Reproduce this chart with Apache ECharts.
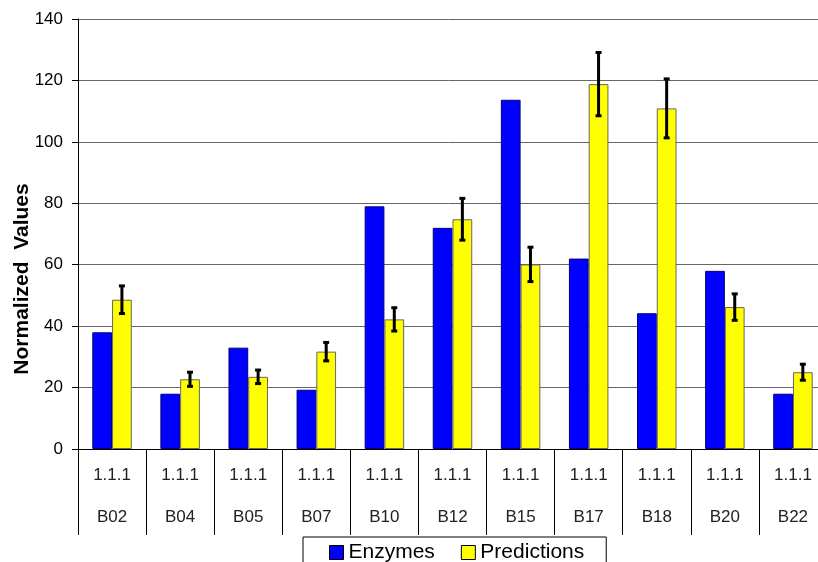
<!DOCTYPE html>
<html>
<head>
<meta charset="utf-8">
<script src="https://cdn.jsdelivr.net/npm/echarts@6/dist/echarts.min.js"></script>
<style>
  html, body { margin: 0; padding: 0; background: #ffffff; }
  #chartWrap { width: 818px; height: 562px; }
</style>
</head>
<body>
<div id="chartWrap"></div>
<script>
var categories = ['B02', 'B04', 'B05', 'B07', 'B10', 'B12', 'B15', 'B17', 'B18', 'B20', 'B22'];
var ecNumbers = ['1.1.1', '1.1.1', '1.1.1', '1.1.1', '1.1.1', '1.1.1', '1.1.1', '1.1.1', '1.1.1', '1.1.1', '1.1.1'];
var enzymes = [38, 18, 33, 19.3, 79, 72, 113.7, 62, 44.2, 58, 18];
var predictions = [48.6, 22.7, 23.5, 31.7, 42.2, 74.8, 60.1, 118.8, 110.9, 46.2, 25];
var predErrors = [4.5, 2.3, 2.2, 3, 3.8, 6.8, 5.6, 10.3, 9.6, 4.3, 2.6];
var yTicks = { min: 0, max: 140, interval: 20 };
var yTitle = 'Normalized  Values';

var fontName = "'Liberation Sans', Arial, sans-serif";

var labels = [];
var errData = [];
for (var i = 0; i < categories.length; i++) {
  labels[i] = ecNumbers[i] + '\n' + categories[i];
  errData[i] = [i, predictions[i], predErrors[i]];
}

// error bar on the yellow bar: half a bar width right of the category centre
function renderError(params, api) {
  var idx = api.value(0);
  var val = api.value(1);
  var err = api.value(2);
  var off = api.size([1, 0])[0] * 0.145;
  var top = api.coord([idx, val + err]);
  var bot = api.coord([idx, val - err]);
  var x = top[0] + off;
  var cap = 3;
  var st = { stroke: '#000', lineWidth: 3 };
  return {
    type: 'group',
    children: [
      { type: 'line', shape: { x1: x, y1: top[1], x2: x, y2: bot[1] }, style: st },
      { type: 'line', shape: { x1: x - cap, y1: top[1], x2: x + cap, y2: top[1] }, style: st },
      { type: 'line', shape: { x1: x - cap, y1: bot[1], x2: x + cap, y2: bot[1] }, style: st }
    ]
  };
}

var chart = echarts.init(document.getElementById('chartWrap'));
chart.setOption({
  animation: false,
  textStyle: { fontFamily: fontName },
  grid: { left: 78, top: 19, width: 749, height: 430, outerBoundsMode: 'none', containLabel: false },
  graphic: [{
    type: 'text',
    x: 22,
    y: 279,
    rotation: Math.PI / 2,
    style: {
      text: yTitle,
      fontFamily: fontName,
      fontSize: 21,
      fontWeight: 'bold',
      fill: '#000',
      align: 'center',
      verticalAlign: 'middle'
    }
  }],
  legend: {
    data: ['Enzymes', 'Predictions'],
    left: 303,
    top: 537,
    icon: 'rect',
    itemWidth: 14,
    itemHeight: 14,
    itemGap: 26,
    padding: [5, 22, 12, 26],
    borderColor: '#000',
    borderWidth: 1,
    backgroundColor: '#fff',
    itemStyle: { borderColor: '#000', borderWidth: 1 },
    textStyle: { fontFamily: fontName, fontSize: 21, color: '#000' }
  },
  xAxis: {
    type: 'category',
    data: labels,
    axisLine: { lineStyle: { color: '#000', width: 1 } },
    axisTick: { show: true, interval: 0, length: 86, lineStyle: { color: '#000', width: 1 } },
    axisLabel: {
      interval: 0,
      margin: 5,
      lineHeight: 42,
      fontSize: 17,
      color: '#222',
      fontFamily: fontName
    }
  },
  yAxis: {
    type: 'value',
    min: yTicks.min,
    max: yTicks.max,
    interval: yTicks.interval,
    axisLine: { show: true, lineStyle: { color: '#000', width: 1 } },
    axisTick: { show: true, length: 6, lineStyle: { color: '#000' } },
    axisLabel: { fontSize: 17, color: '#000', margin: 15, fontFamily: fontName },
    splitLine: { lineStyle: { color: '#666', width: 1 } }
  },
  series: [{
    name: 'Enzymes',
    type: 'bar',
    data: enzymes,
    barWidth: '29%',
    barGap: '0%',
    itemStyle: { color: '#0000ff', borderColor: '#00007a', borderWidth: 1 }
  }, {
    name: 'Predictions',
    type: 'bar',
    data: predictions,
    barWidth: '29%',
    barGap: '0%',
    itemStyle: { color: '#ffff00', borderColor: '#666', borderWidth: 1 }
  }, {
    name: 'err',
    type: 'custom',
    renderItem: renderError,
    encode: { x: 0, y: 1 },
    data: errData,
    z: 10
  }]
});
</script>
</body>
</html>
